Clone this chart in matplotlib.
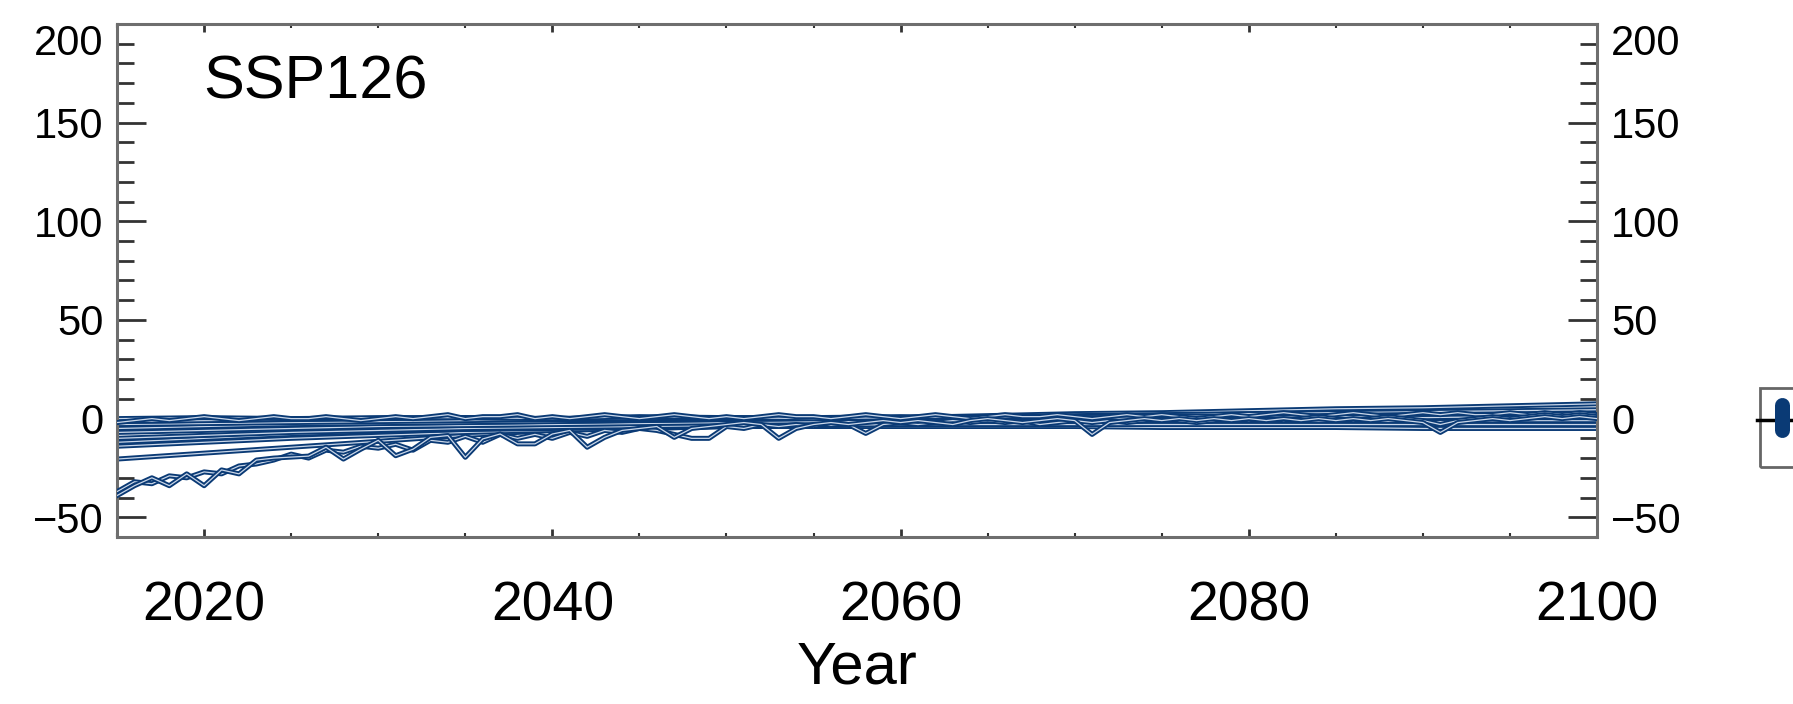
import numpy as np
import matplotlib
matplotlib.use("Agg")
import matplotlib.pyplot as plt
import matplotlib.patheffects as pe
from matplotlib.ticker import MultipleLocator, FixedLocator
from matplotlib.patches import Rectangle
from matplotlib.lines import Line2D

plt.rcParams['font.family'] = ['Liberation Sans', 'DejaVu Sans']

# ---------------- data ----------------
years = list(range(2015, 2101))
years5 = list(range(2015, 2101, 5))

# smooth members, read every 5 years
s1 = [0, 0.5, 0, 0.5, 0.5, 0, 1, 0.5, 0, 0.5, 1, 0.5, 0, 0.5, 1, 0.5, 1, 0.5]
s2 = [-1.5, -1, -0.5, 0, 0.5, 0, 0, 0.5, 0.5, 1, 0.5, 1, 1.5, 1, 1.5, 2, 1.5, 2]
s3 = [-3, -2.5, -2, -1.5, -1, -0.5, -0.5, 0, 0, 0.5, 1, 1.5, 2, 2.5, 3, 3.5, 4, 4.5]
s4 = [-5, -4, -3, -2.5, -2, -1.5, -1, -0.5, 0, 0.5, 1.5, 2.5, 3, 4, 5, 5.5, 6.5, 7.5]
s5 = [-7, -6, -5, -4, -3.5, -3, -2.5, -2, -1.5, -1.5, -1, -1, -0.5, -0.5, 0, 0, 0.5, 0.5]
s6 = [-10, -8.5, -7, -6, -5, -4.5, -4, -3.5, -3.5, -3, -3, -3, -3, -3, -3, -3, -3, -3]
s7 = [-12, -10, -8, -6.5, -5.5, -5, -4.5, -4, -4, -4, -4, -4, -4.5, -4.5, -4.5, -5, -5, -5]
s8 = [-14, -12, -10, -8.5, -7, -6, -5, -4, -3.5, -3, -2.5, -2.5, -2, -2, -1.5, -1.5, -1, -1]
s9 = [-20.5, -17.5, -14.5, -11.5, -8.5, -6, -5, -4, -3, -2.5, -2, -2, -1.5, -1.5, -1, -1, -0.5, -0.5]

# annual members
z1 = [-39, -34, -30, -34, -28, -34, -26, -28, -21, -20,
      -19.5, -19, -14.5, -20.5, -15.5, -11, -18.8, -15.5, -9.5, -8.6,
      -19.6, -10.3, -7.8, -12.8, -12.8, -7.8, -6, -14.5, -9.5, -6,
      -5, -4, -9.5, -5, -4, -3, -2, -3, -10, -5,
      -3, -2, -3, -2, -1, -2, -1, -2, -3, -1,
      0, -1, -2, -1, 0, -1, -8, -2, -1, 0,
      -1, 0, -1, 0, -1, 0, -1, 0, -1, 0,
      -1, 0, -1, 0, -1, -2, -7, -2, -1, 0,
      -1, 0, 1, 0, 1, 0]
z2 = [-37, -32, -33, -29, -30, -27, -28, -24, -23, -21,
      -18, -20, -16, -17, -14, -15, -13, -16, -11, -12,
      -9, -12, -8, -10, -8, -10, -7, -9, -6, -7,
      -5, -6, -8, -10, -10, -4, -5, -3, -4, -3,
      -4, -2, -3, -7.5, -3, -2, -3, -2, -1, -2,
      -1, -2, -1, -3, -2, -1, -2, -1, -2, -1,
      0, -1, -2, -1, 0, -1, 0, -1, 0, 1,
      0, -1, 0, 1, 0, -1, -3, -1, 0, 1,
      0, 1, 2, 1, 2, 1]
n1 = [-2, -1, 0, -1, 0, 1, 0, -1, 0, 1,
      0, 0, 1, 0, -1, 0, 1, 0, 1, 2,
      0, 1, 1, 2, 0, 1, 0, 1, 2, 1,
      0, 1, 2, 1, 0, 1, 0, 1, 2, 1,
      1, 0, 1, 2, 1, 0, 1, 2, 1, 0,
      1, 2, 1, 1, 2, 1, 0, 1, 2, 1,
      2, 1, 0, 1, 2, 1, 2, 3, 2, 1,
      2, 3, 2, 1, 2, 3, 2, 3, 2, 2,
      3, 2, 3, 2, 3, 2]

scenario = "SSP126"
xticks_major = [2020, 2040, 2060, 2080, 2100]
yticks_major = [-50, 0, 50, 100, 150, 200]

DARK = '#0a3a75'
LIGHT = '#c9d6e8'

fig = plt.figure(figsize=(17.93, 7.04), dpi=100)
ax = fig.add_axes([0.0653, 0.2372, 0.8254, 0.7288])

ax.axhline(0, color='#444444', lw=1.8, ls=(0, (6, 4)), zorder=1)

tube = [pe.Stroke(linewidth=3.6, foreground=DARK), pe.Normal()]
for s in [s9, s8, s7, s6, s5, s4, s3, s2, s1]:
    ax.plot(years5, s, color=LIGHT, lw=0.9, path_effects=tube, zorder=2)
for s in [n1, z2, z1]:
    ax.plot(years, s, color=LIGHT, lw=0.9, path_effects=tube, zorder=3)

ax.set_xlim(2015, 2100)
ax.set_ylim(-60, 200)
ax.xaxis.set_major_locator(FixedLocator(xticks_major))
ax.xaxis.set_minor_locator(MultipleLocator(5))
ax.yaxis.set_major_locator(FixedLocator(yticks_major))
ax.yaxis.set_minor_locator(MultipleLocator(10))

frame_c = '#6e6e6e'
for sp in ax.spines.values():
    sp.set_color(frame_c)
    sp.set_linewidth(2.2)

ax.tick_params(axis='y', which='major', direction='in', length=21, width=2,
               left=True, right=True, labelleft=True, labelright=True,
               pad=10, labelsize=30, color='#333333')
ax.tick_params(axis='y', which='minor', direction='in', length=12, width=2,
               left=True, right=True, color='#333333')
ax.tick_params(axis='x', which='major', direction='in', length=6, width=2,
               top=True, bottom=True, pad=31, labelsize=40, color='#333333')
ax.tick_params(axis='x', which='minor', direction='in', length=3, width=1.5,
               top=True, bottom=True, color='#333333')

ax.set_xlabel("Year", fontsize=43, labelpad=6)
ax.text(0.058, 0.94, scenario, transform=ax.transAxes, fontsize=44,
        ha='left', va='top')

yt = ax.yaxis.get_major_ticks()
top_tick = yt[yticks_major.index(200)]
top_tick.label1.set_va('top')
top_tick.label2.set_va('top')

# partial legend key at the right edge
fig.add_artist(Rectangle((0.9816, 0.3366), 0.05, 0.1123, transform=fig.transFigure,
                         fill=False, edgecolor='#666666', lw=2))
fig.add_artist(Line2D([0.9800, 1.0], [0.4034, 0.4034], transform=fig.transFigure,
                      color='black', lw=2.5))
fig.add_artist(Line2D([0.9939, 0.9939], [0.389, 0.4247], transform=fig.transFigure,
                      color=DARK, lw=10.8, solid_capstyle='round'))

fig.savefig("out.png", dpi=100)
